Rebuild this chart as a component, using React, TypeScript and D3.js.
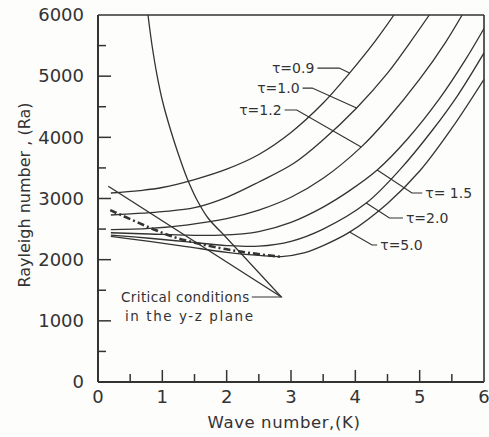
import React from "react";
import * as d3 from "d3";

const W = 489;
const H = 437;

const xTicks = [0, 1, 2, 3, 4, 5, 6];
const xMinor = [0.5, 1.5, 2.5, 3.5, 4.5, 5.5];
const yTicks = [0, 1000, 2000, 3000, 4000, 5000, 6000];
const yMinor = [500, 1500, 2500, 3500, 4500, 5500];

type P = [number, number];

const tau09: P[] = [[0.2, 3090], [0.65, 3130], [1.0, 3180], [1.5, 3310], [2.0, 3480], [2.5, 3720], [3.0, 4080], [3.5, 4560], [3.91, 5050], [4.3, 5560], [4.6, 6000]];
const tau10: P[] = [[0.2, 2730], [0.7, 2760], [1.0, 2785], [1.5, 2850], [2.0, 3020], [2.5, 3270], [3.05, 3580], [3.5, 3960], [4.02, 4480], [4.5, 5050], [4.85, 5550], [5.15, 6000]];
const tau12: P[] = [[0.2, 2490], [0.8, 2510], [1.4, 2570], [2.0, 2670], [2.5, 2810], [3.0, 3020], [3.5, 3330], [4.09, 3840], [4.5, 4300], [5.0, 4950], [5.4, 5550], [5.66, 6000]];
const tau15: P[] = [[0.2, 2440], [0.8, 2420], [1.4, 2400], [1.9, 2400], [2.5, 2460], [3.0, 2610], [3.5, 2860], [3.9, 3120], [4.34, 3465], [4.8, 3960], [5.3, 4620], [5.7, 5250], [6.0, 5780]];
const tau20: P[] = [[0.2, 2400], [0.8, 2350], [1.4, 2290], [2.0, 2230], [2.5, 2220], [3.0, 2300], [3.5, 2500], [4.17, 2925], [4.7, 3480], [5.2, 4120], [5.6, 4700], [6.0, 5380]];
const tau50: P[] = [[0.2, 2380], [0.8, 2300], [1.4, 2210], [2.0, 2120], [2.5, 2070], [2.85, 2050], [3.2, 2110], [3.5, 2230], [3.91, 2450], [4.5, 2920], [5.0, 3450], [5.5, 4150], [6.0, 4950]];
const dashDot: P[] = [[0.19, 2810], [0.88, 2490], [1.24, 2350], [1.89, 2190], [2.36, 2110], [2.85, 2045]];
const straightLine: P[] = [[0.16, 3200], [2.85, 1390]];
const criticalYZ: P[] = [[0.777, 6000], [0.839, 5510], [0.917, 5019], [1.01, 4561], [1.119, 4153], [1.243, 3744], [1.383, 3335], [1.539, 2975], [1.71, 2681], [1.928, 2436]];

const tauCurves = [tau09, tau10, tau12, tau15, tau20, tau50];
const tauLabels = ["τ=0.9", "τ=1.0", "τ=1.2", "τ= 1.5", "τ=2.0", "τ=5.0"];
const tauLeaders: P[][] = [
  [[3.41, 5133], [3.75, 5133], [3.91, 5052]],
  [[3.18, 4806], [3.33, 4806], [4.02, 4479]],
  [[2.9, 4447], [3.09, 4447], [4.09, 3842]],
  [[4.34, 3466], [4.88, 3090], [5.04, 3090]],
  [[4.17, 2926], [4.53, 2681], [4.74, 2681]],
  [[3.91, 2452], [4.26, 2240], [4.34, 2240]],
];
const tauLabelSide = ["left", "left", "left", "right", "right", "right"];
const criticalLeader: P[] = [[1.928, 2436], [2.85, 1390], [2.39, 1390]];
const criticalLabel = ["Critical  conditions", "in  the  y-z  plane"];

const x = d3.scaleLinear().domain([0, 6]).range([98, 484]);
const y = d3.scaleLinear().domain([0, 6000]).range([382, 15]);

const smooth = d3
  .line<P>()
  .x((d) => x(d[0]))
  .y((d) => y(d[1]))
  .curve(d3.curveCatmullRom.alpha(0.5));
const straight = d3
  .line<P>()
  .x((d) => x(d[0]))
  .y((d) => y(d[1]));

const INK = "#333333";
const FONT = "'DejaVu Sans', sans-serif";

export default function App() {
  return (
    <svg
      width={W}
      height={H}
      viewBox={`0 0 ${W} ${H}`}
      style={{ position: "absolute", left: 0, top: 0, background: "#fdfdfc" }}
    >
      <defs>
        <clipPath id="plot">
          <rect x={x(0)} y={y(6000)} width={x(6) - x(0)} height={y(0) - y(6000)} />
        </clipPath>
      </defs>
      <rect width={W} height={H} fill="#fdfdfc" />

      {/* frame */}
      <line x1={x(0)} x2={x(6)} y1={y(6000)} y2={y(6000)} stroke={INK} strokeWidth={1.6} />
      <line x1={x(6)} x2={x(6)} y1={y(6000)} y2={y(0)} stroke={INK} strokeWidth={1.6} />
      <line x1={x(0)} x2={x(6)} y1={y(0)} y2={y(0)} stroke={INK} strokeWidth={2} />
      <line x1={x(0)} x2={x(0)} y1={y(6000)} y2={y(0)} stroke={INK} strokeWidth={2} />

      {/* ticks */}
      {xTicks.filter((t) => t > 0 && t < 6).map((t) => (
        <line key={"xt" + t} x1={x(t)} x2={x(t)} y1={y(0)} y2={y(0) - 12} stroke={INK} strokeWidth={1.5} />
      ))}
      {xMinor.map((t) => (
        <line key={"xm" + t} x1={x(t)} x2={x(t)} y1={y(0)} y2={y(0) - 8} stroke={INK} strokeWidth={1.5} />
      ))}
      {yTicks.filter((t) => t > 0 && t < 6000).map((t) => (
        <line key={"yt" + t} x1={x(0)} x2={x(0) + 13} y1={y(t)} y2={y(t)} stroke={INK} strokeWidth={1.5} />
      ))}
      {yMinor.map((t) => (
        <line key={"ym" + t} x1={x(0)} x2={x(0) + 8} y1={y(t)} y2={y(t)} stroke={INK} strokeWidth={1.5} />
      ))}

      {/* tick labels */}
      {xTicks.map((t) => (
        <text key={"xl" + t} x={x(t)} y={y(0) + 15} dy="0.35em" textAnchor="middle" fontFamily={FONT} fontSize={18} fill={INK}>
          {t}
        </text>
      ))}
      {yTicks.map((t) => (
        <text key={"yl" + t} x={x(0) - 14} y={y(t)} dy="0.35em" textAnchor="end" fontFamily={FONT} fontSize={18} fill={INK}>
          {t}
        </text>
      ))}

      {/* axis titles */}
      <text x={284} y={422} dy="0.35em" textAnchor="middle" fontFamily={FONT} fontSize={16.5} letterSpacing={0.6} fill={INK}>
        Wave number,(K)
      </text>
      <text
        transform={`translate(24,195) rotate(-90)`}
        dy="0.35em"
        textAnchor="middle"
        fontFamily={FONT}
        fontSize={16}
        fill={INK}
      >
        Rayleigh number , (Ra)
      </text>

      <g clipPath="url(#plot)" fill="none" stroke={INK} strokeWidth={1.3}>
        {tauCurves.map((c, i) => (
          <path key={"tau" + i} d={smooth(c) || ""} />
        ))}
        <path d={smooth(criticalYZ) || ""} />
        <path d={straight(straightLine) || ""} />
        <path d={smooth(dashDot) || ""} strokeWidth={2.6} strokeDasharray="7 3 2 3" />
      </g>

      {/* leaders */}
      <g fill="none" stroke={INK} strokeWidth={1.2}>
        {tauLeaders.map((l, i) => (
          <path key={"ld" + i} d={straight(l) || ""} />
        ))}
        <path d={straight(criticalLeader) || ""} />
      </g>

      {tauLeaders.map((l, i) => {
        const left = tauLabelSide[i] === "left";
        const p = left ? l[0] : l[l.length - 1];
        return (
          <text
            key={"tl" + i}
            x={x(p[0]) + (left ? -3 : 3)}
            y={y(p[1])}
            dy="0.35em"
            textAnchor={left ? "end" : "start"}
            fontFamily={FONT}
            fontSize={14}
            fill={INK}
          >
            {tauLabels[i]}
          </text>
        );
      })}

      <text x={121} y={y(criticalLeader[2][1])} dy="0.35em" textAnchor="start" fontFamily={FONT} fontSize={13.5} letterSpacing={0.4} fill={INK}>
        {criticalLabel[0]}
      </text>
      <text x={125} y={y(criticalLeader[2][1]) + 19} dy="0.35em" textAnchor="start" fontFamily={FONT} fontSize={13.5} textLength={128} lengthAdjust="spacing" fill={INK}>
        {criticalLabel[1]}
      </text>
    </svg>
  );
}
